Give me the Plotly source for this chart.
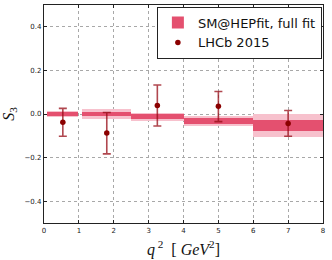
import plotly.graph_objects as go

# Bins in q^2 [GeV^2]
bin_lo = [0.1, 1.1, 2.5, 4.0, 6.0]
bin_hi = [0.98, 2.5, 4.0, 6.0, 8.0]

# SM@HEPfit prediction (central, 1 sigma, 2 sigma half-widths)
sm_center = [0.0, 0.0, -0.013, -0.033, -0.053]
sm_err1 = [0.007, 0.011, 0.011, 0.015, 0.027]
sm_err2 = [0.013, 0.023, 0.018, 0.024, 0.053]

# LHCb 2015 measurement
lhcb_x = [0.54, 1.80, 3.25, 5.0, 7.0]
lhcb_val = [-0.038, -0.087, 0.039, 0.035, -0.044]
lhcb_up = [0.064, 0.094, 0.094, 0.068, 0.060]
lhcb_dn = [0.064, 0.096, 0.094, 0.070, 0.058]

x_ticks = [0, 1, 2, 3, 4, 5, 6, 7, 8]
y_ticks = [-0.4, -0.2, 0.0, 0.2, 0.4]

centers = [(a + b) / 2 for a, b in zip(bin_lo, bin_hi)]
widths = [b - a for a, b in zip(bin_lo, bin_hi)]

fig = go.Figure()
fig.add_trace(go.Bar(
    x=centers, width=widths,
    base=[c - e for c, e in zip(sm_center, sm_err2)],
    y=[2 * e for e in sm_err2],
    marker=dict(color="#f7c1cd", line=dict(width=0)),
    showlegend=False, hoverinfo="skip"))
fig.add_trace(go.Bar(
    x=centers, width=widths,
    base=[c - e for c, e in zip(sm_center, sm_err1)],
    y=[2 * e for e in sm_err1],
    marker=dict(color="#e4506f", line=dict(width=0)),
    name="SM@HEPfit, full fit"))
fig.add_trace(go.Scatter(
    x=lhcb_x, y=lhcb_val, mode="markers",
    marker=dict(color="#8b0000", size=5.5),
    error_y=dict(type="data", symmetric=False, array=lhcb_up, arrayminus=lhcb_dn,
                 color="rgba(150,10,20,0.75)", thickness=1.6, width=4),
    name="LHCb 2015"))

axis_common = dict(
    showline=True, linecolor="#222", linewidth=1.2, mirror="ticks",
    ticks="inside", ticklen=3, tickcolor="#222",
    showgrid=True, gridcolor="#a8a8a8", griddash="dot", gridwidth=1,
    zeroline=False, automargin=False,
    tickfont=dict(family="DejaVu Sans", size=7, color="#222"))

fig.update_xaxes(range=[0, 8], tickvals=x_ticks, ticktext=[str(t) for t in x_ticks],
                 title=dict(text="<i>q</i><sup> 2</sup>  [ <i>GeV</i><sup>2</sup>]",
                            font=dict(family="Liberation Serif", size=16, color="#111"),
                            standoff=10),
                 **axis_common)
fig.update_yaxes(range=[-0.5, 0.5], tickvals=y_ticks, tickformat=".1f",
                 title=dict(text="<i>S</i><sub>3</sub>",
                            font=dict(family="Liberation Serif", size=16, color="#111"),
                            standoff=10),
                 **axis_common)

fig.update_layout(
    width=332, height=260,
    margin=dict(l=44, r=9, t=5, b=37, autoexpand=False),
    barmode="overlay", bargap=0,
    plot_bgcolor="white", paper_bgcolor="white",
    legend=dict(x=0.996, y=0.993, xanchor="right", yanchor="top",
                bgcolor="white", bordercolor="#222", borderwidth=1,
                font=dict(family="DejaVu Sans", size=13, color="#111"),
                tracegroupgap=2),
)

fig.write_html("out.html", config={"displayModeBar": False},
               post_script="document.body.style.margin='0';document.body.style.overflow='hidden';")
